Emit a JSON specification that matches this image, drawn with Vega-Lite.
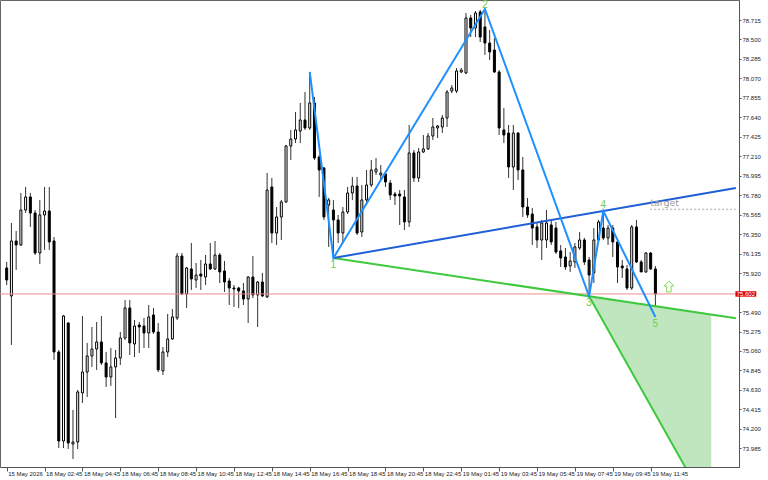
{
  "$schema": "https://vega.github.io/schema/vega-lite/v6.json",
  "width": 739,
  "height": 467,
  "autosize": {"type": "none"},
  "padding": {"left": 0, "top": 0, "right": 29, "bottom": 13},
  "background": "#ffffff",
  "config": {
    "view": {"stroke": "#666", "strokeWidth": 1},
    "axis": {"grid": false, "labelFont": "Liberation Sans", "labelFontSize": 6, "labelColor": "#222", "domainColor": "#555", "tickColor": "#555", "title": null, "labelOverlap": false, "labelFlush": false}
  },
  "datasets": {
    "candles": [
      {"i":0,"o":75.977,"h":76.043,"l":75.789,"c":75.844},
      {"i":1,"o":75.668,"h":76.474,"l":75.127,"c":76.275},
      {"i":2,"o":76.275,"h":76.385,"l":75.955,"c":76.231},
      {"i":3,"o":76.231,"h":76.805,"l":76.220,"c":76.617},
      {"i":4,"o":76.617,"h":76.871,"l":76.584,"c":76.761},
      {"i":5,"o":76.761,"h":76.805,"l":76.430,"c":76.584},
      {"i":6,"o":76.584,"h":76.617,"l":76.120,"c":76.142},
      {"i":7,"o":76.142,"h":76.728,"l":76.021,"c":76.562},
      {"i":8,"o":76.562,"h":76.871,"l":76.176,"c":76.606},
      {"i":9,"o":76.606,"h":76.871,"l":76.176,"c":76.264},
      {"i":10,"o":76.275,"h":76.319,"l":74.961,"c":75.049},
      {"i":11,"o":75.049,"h":75.071,"l":73.989,"c":74.066},
      {"i":12,"o":74.066,"h":75.458,"l":73.989,"c":75.447},
      {"i":13,"o":75.369,"h":75.380,"l":73.978,"c":74.044},
      {"i":14,"o":74.033,"h":74.409,"l":73.868,"c":74.055},
      {"i":15,"o":74.055,"h":74.630,"l":73.978,"c":74.608},
      {"i":16,"o":74.597,"h":75.447,"l":74.486,"c":74.828},
      {"i":17,"o":74.828,"h":75.149,"l":74.552,"c":75.005},
      {"i":18,"o":75.005,"h":75.325,"l":74.884,"c":75.082},
      {"i":19,"o":75.082,"h":75.380,"l":74.851,"c":75.160},
      {"i":20,"o":75.160,"h":75.447,"l":74.906,"c":74.928},
      {"i":21,"o":74.928,"h":75.049,"l":74.663,"c":74.773},
      {"i":22,"o":74.773,"h":75.093,"l":74.674,"c":74.884},
      {"i":23,"o":74.884,"h":75.071,"l":74.320,"c":74.983},
      {"i":24,"o":74.983,"h":75.270,"l":74.906,"c":75.204},
      {"i":25,"o":75.204,"h":75.623,"l":75.182,"c":75.535},
      {"i":26,"o":75.535,"h":75.623,"l":75.016,"c":75.149},
      {"i":27,"o":75.138,"h":75.402,"l":74.994,"c":75.336},
      {"i":28,"o":75.347,"h":75.380,"l":75.038,"c":75.325},
      {"i":29,"o":75.336,"h":75.425,"l":75.093,"c":75.259},
      {"i":30,"o":75.259,"h":75.568,"l":75.093,"c":75.436},
      {"i":31,"o":75.458,"h":75.535,"l":75.248,"c":75.270},
      {"i":32,"o":75.270,"h":75.369,"l":74.828,"c":74.851},
      {"i":33,"o":74.840,"h":75.104,"l":74.795,"c":75.049},
      {"i":34,"o":75.049,"h":75.469,"l":74.994,"c":75.193},
      {"i":35,"o":75.193,"h":75.524,"l":75.182,"c":75.436},
      {"i":36,"o":75.425,"h":76.142,"l":75.402,"c":76.109},
      {"i":37,"o":76.109,"h":76.142,"l":75.679,"c":75.690},
      {"i":38,"o":75.690,"h":75.988,"l":75.535,"c":75.977},
      {"i":39,"o":75.966,"h":76.253,"l":75.734,"c":75.855},
      {"i":40,"o":75.844,"h":76.032,"l":75.756,"c":75.899},
      {"i":41,"o":75.910,"h":76.065,"l":75.734,"c":75.888},
      {"i":42,"o":75.877,"h":76.120,"l":75.789,"c":76.021},
      {"i":43,"o":76.021,"h":76.253,"l":75.955,"c":75.966},
      {"i":44,"o":75.966,"h":76.275,"l":75.955,"c":76.120},
      {"i":45,"o":76.120,"h":76.142,"l":75.811,"c":75.933},
      {"i":46,"o":75.944,"h":76.054,"l":75.712,"c":75.822},
      {"i":47,"o":75.833,"h":75.866,"l":75.568,"c":75.756},
      {"i":48,"o":75.756,"h":75.789,"l":75.546,"c":75.745},
      {"i":49,"o":75.756,"h":75.767,"l":75.535,"c":75.723},
      {"i":50,"o":75.723,"h":75.811,"l":75.568,"c":75.634},
      {"i":51,"o":75.634,"h":75.888,"l":75.369,"c":75.877},
      {"i":52,"o":75.877,"h":76.109,"l":75.645,"c":75.679},
      {"i":53,"o":75.679,"h":75.833,"l":75.325,"c":75.822},
      {"i":54,"o":75.822,"h":75.922,"l":75.657,"c":75.668},
      {"i":55,"o":75.657,"h":77.026,"l":75.645,"c":76.838},
      {"i":56,"o":76.871,"h":76.971,"l":76.253,"c":76.363},
      {"i":57,"o":76.363,"h":76.650,"l":76.231,"c":76.540},
      {"i":58,"o":76.540,"h":76.728,"l":76.286,"c":76.706},
      {"i":59,"o":76.706,"h":77.335,"l":76.695,"c":77.324},
      {"i":60,"o":77.324,"h":77.501,"l":77.169,"c":77.401},
      {"i":61,"o":77.401,"h":77.699,"l":77.357,"c":77.501},
      {"i":62,"o":77.489,"h":77.799,"l":77.357,"c":77.611},
      {"i":63,"o":77.611,"h":77.920,"l":77.501,"c":77.523},
      {"i":64,"o":77.523,"h":78.141,"l":77.501,"c":77.799},
      {"i":65,"o":77.799,"h":77.865,"l":77.169,"c":77.191},
      {"i":66,"o":77.202,"h":77.225,"l":76.761,"c":77.059},
      {"i":67,"o":77.081,"h":77.092,"l":76.507,"c":76.540},
      {"i":68,"o":76.672,"h":76.750,"l":76.209,"c":76.728},
      {"i":69,"o":76.617,"h":76.728,"l":76.087,"c":76.507},
      {"i":70,"o":76.507,"h":76.562,"l":76.253,"c":76.363},
      {"i":71,"o":76.363,"h":76.650,"l":76.253,"c":76.595},
      {"i":72,"o":76.595,"h":76.871,"l":76.573,"c":76.805},
      {"i":73,"o":76.805,"h":76.982,"l":76.728,"c":76.882},
      {"i":74,"o":76.882,"h":76.982,"l":76.341,"c":76.363},
      {"i":75,"o":76.374,"h":76.893,"l":76.319,"c":76.728},
      {"i":76,"o":76.728,"h":77.059,"l":76.695,"c":76.893},
      {"i":77,"o":76.893,"h":77.169,"l":76.871,"c":77.059},
      {"i":78,"o":77.037,"h":77.191,"l":77.004,"c":77.070},
      {"i":79,"o":77.004,"h":77.114,"l":76.948,"c":77.026},
      {"i":80,"o":77.015,"h":77.026,"l":76.871,"c":76.926},
      {"i":81,"o":76.915,"h":76.948,"l":76.728,"c":76.783},
      {"i":82,"o":76.794,"h":76.816,"l":76.672,"c":76.772},
      {"i":83,"o":76.794,"h":76.838,"l":76.452,"c":76.772},
      {"i":84,"o":76.761,"h":76.838,"l":76.396,"c":76.485},
      {"i":85,"o":76.485,"h":77.556,"l":76.430,"c":77.247},
      {"i":86,"o":77.247,"h":77.280,"l":76.926,"c":76.971},
      {"i":87,"o":76.971,"h":77.302,"l":76.926,"c":77.258},
      {"i":88,"o":77.258,"h":77.445,"l":77.247,"c":77.291},
      {"i":89,"o":77.291,"h":77.467,"l":77.280,"c":77.434},
      {"i":90,"o":77.434,"h":77.633,"l":77.390,"c":77.534},
      {"i":91,"o":77.523,"h":77.556,"l":77.412,"c":77.545},
      {"i":92,"o":77.534,"h":77.666,"l":77.467,"c":77.633},
      {"i":93,"o":77.633,"h":77.942,"l":77.534,"c":77.920},
      {"i":94,"o":77.931,"h":77.997,"l":77.909,"c":77.964},
      {"i":95,"o":77.931,"h":78.185,"l":77.909,"c":78.152},
      {"i":96,"o":78.141,"h":78.185,"l":78.130,"c":78.163},
      {"i":97,"o":78.130,"h":78.792,"l":78.119,"c":78.737},
      {"i":98,"o":78.737,"h":78.770,"l":78.527,"c":78.627},
      {"i":99,"o":78.627,"h":78.815,"l":78.527,"c":78.792},
      {"i":100,"o":78.804,"h":78.826,"l":78.472,"c":78.527},
      {"i":101,"o":78.638,"h":78.837,"l":78.329,"c":78.461},
      {"i":102,"o":78.461,"h":78.605,"l":78.273,"c":78.362},
      {"i":103,"o":78.384,"h":78.516,"l":78.130,"c":78.141},
      {"i":104,"o":78.141,"h":78.163,"l":77.445,"c":77.523},
      {"i":105,"o":77.501,"h":77.743,"l":77.357,"c":77.445},
      {"i":106,"o":77.467,"h":77.556,"l":76.971,"c":77.092},
      {"i":107,"o":77.092,"h":77.556,"l":76.838,"c":77.467},
      {"i":108,"o":77.467,"h":77.478,"l":76.948,"c":77.059},
      {"i":109,"o":77.059,"h":77.202,"l":76.540,"c":76.650},
      {"i":110,"o":76.650,"h":76.750,"l":76.529,"c":76.562},
      {"i":111,"o":76.573,"h":76.639,"l":76.231,"c":76.418},
      {"i":112,"o":76.430,"h":76.474,"l":76.198,"c":76.286},
      {"i":113,"o":76.286,"h":76.507,"l":76.065,"c":76.474},
      {"i":114,"o":76.286,"h":76.617,"l":76.198,"c":76.474},
      {"i":115,"o":76.452,"h":76.507,"l":76.231,"c":76.264},
      {"i":116,"o":76.418,"h":76.485,"l":76.131,"c":76.153},
      {"i":117,"o":76.165,"h":76.231,"l":75.988,"c":76.087},
      {"i":118,"o":76.098,"h":76.198,"l":75.955,"c":75.988},
      {"i":119,"o":75.999,"h":76.153,"l":75.933,"c":76.054},
      {"i":120,"o":76.043,"h":76.253,"l":75.977,"c":76.209},
      {"i":121,"o":76.198,"h":76.374,"l":76.176,"c":76.286},
      {"i":122,"o":76.286,"h":76.308,"l":76.010,"c":76.043},
      {"i":123,"o":76.065,"h":76.098,"l":75.664,"c":75.899},
      {"i":124,"o":75.922,"h":76.418,"l":75.811,"c":76.286},
      {"i":125,"o":76.286,"h":76.507,"l":76.264,"c":76.485},
      {"i":126,"o":76.418,"h":76.606,"l":76.286,"c":76.308},
      {"i":127,"o":76.308,"h":76.452,"l":76.231,"c":76.418},
      {"i":128,"o":76.418,"h":76.452,"l":76.098,"c":76.264},
      {"i":129,"o":76.264,"h":76.286,"l":75.811,"c":75.988},
      {"i":130,"o":75.999,"h":76.065,"l":75.866,"c":75.977},
      {"i":131,"o":75.966,"h":76.010,"l":75.734,"c":75.756},
      {"i":132,"o":75.756,"h":76.452,"l":75.734,"c":76.430},
      {"i":133,"o":76.430,"h":76.507,"l":76.032,"c":76.043},
      {"i":134,"o":76.043,"h":76.065,"l":75.933,"c":75.933},
      {"i":135,"o":75.933,"h":76.153,"l":75.922,"c":76.142},
      {"i":136,"o":76.142,"h":76.153,"l":75.955,"c":75.966},
      {"i":137,"o":75.966,"h":75.999,"l":75.436,"c":75.690}
    ],
    "wolfe": [
      {"n":0,"i":64,"p":78.141},
      {"n":1,"i":69,"p":76.087},
      {"n":2,"i":101,"p":78.837},
      {"n":3,"i":123,"p":75.664},
      {"n":4,"i":126,"p":76.606},
      {"n":5,"i":137,"p":75.436}
    ],
    "line14": [{"i":69,"p":76.087},{"i":154,"p":76.861}],
    "line13": [{"i":69,"p":76.087},{"i":154,"p":75.422}],
    "diag": [{"i":123,"p":75.664},{"i":150,"p":73.155}],
    "zone": [{"i":123,"p":75.664,"p2":75.664},{"i":148.8,"p":75.463,"p2":73.266}],
    "target": [{"i":135.9,"p":76.625,"label":"target"},{"i":154,"p":76.625,"label":""}],
    "arrow": [{"i":139.85,"p":75.772}],
    "price": [{"i":153.9,"i2":158.3,"p":75.690,"label":"75.602"}]
  },
  "layer": [
    {
      "data": {"name": "candles"},
      "mark": {"type": "rule", "color": "#333", "strokeWidth": 1},
      "encoding": {
        "x": {
          "field": "i", "type": "quantitative", "title": null,
          "scale": {"domain": [-0.354, 153.6], "nice": false, "zero": false},
          "axis": {
            "orient": "bottom",
            "values": [0,8,16,24,32,40,48,56,64,72,80,88,96,104,112,120,128,136],
            "tickCount": 40,
            "labelExpr": "['15 May 2026','18 May 02:45','18 May 04:45','18 May 06:45','18 May 08:45','18 May 10:45','18 May 12:45','18 May 14:45','18 May 16:45','18 May 18:45','18 May 20:45','18 May 22:45','19 May 01:45','19 May 03:45','19 May 05:45','19 May 07:45','19 May 09:45','19 May 11:45'][round(datum.value/8)]",
            "labelAlign": "left",
            "labelBaseline": "top",
            "labelOffset": 1,
            "labelPadding": -1,
            "tickSize": 4,
            "labelOverlap": false,
            "labelFlush": false
          }
        },
        "y": {
          "field": "l", "type": "quantitative", "title": null,
          "scale": {"domain": [73.779, 78.936], "nice": false, "zero": false},
          "axis": {
            "orient": "right",
            "values": [73.985,74.2,74.415,74.63,74.845,75.06,75.275,75.49,75.92,76.135,76.35,76.565,76.78,76.995,77.21,77.425,77.64,77.855,78.07,78.285,78.5,78.715],
            "tickCount": 40,
            "format": ".3f",
            "tickSize": 2,
            "labelPadding": 1,
            "labelBaseline": "middle",
            "labelOverlap": false,
            "labelFlush": false
          }
        },
        "y2": {"field": "h"}
      }
    },
    {
      "data": {"name": "candles"},
      "mark": {"type": "bar", "width": 2, "stroke": "#000", "strokeWidth": 1},
      "encoding": {
        "x": {"field": "i", "type": "quantitative", "title": null},
        "y": {"field": "o", "type": "quantitative", "title": null},
        "y2": {"field": "c"},
        "fill": {"condition": {"test": "datum.c < datum.o", "value": "#000000"}, "value": "#ffffff"}
      }
    },
    {
      "data": {"name": "zone"},
      "mark": {"type": "area", "color": "#bfe6bf", "opacity": 1, "clip": true},
      "encoding": {
        "x": {"field": "i", "type": "quantitative", "title": null},
        "y": {"field": "p", "type": "quantitative", "title": null},
        "y2": {"field": "p2"}
      }
    },
    {
      "data": {"name": "price"},
      "mark": {"type": "rule", "color": "#f08c8c", "strokeWidth": 1},
      "encoding": {
        "y": {"field": "p", "type": "quantitative", "title": null}
      }
    },
    {
      "data": {"name": "line13"},
      "mark": {"type": "line", "color": "#3ec93e", "strokeWidth": 2, "clip": true},
      "encoding": {
        "x": {"field": "i", "type": "quantitative", "title": null},
        "y": {"field": "p", "type": "quantitative", "title": null}
      }
    },
    {
      "data": {"name": "diag"},
      "mark": {"type": "line", "color": "#3ec93e", "strokeWidth": 2, "clip": true},
      "encoding": {
        "x": {"field": "i", "type": "quantitative", "title": null},
        "y": {"field": "p", "type": "quantitative", "title": null}
      }
    },
    {
      "data": {"name": "line14"},
      "mark": {"type": "line", "color": "#1f5fd6", "strokeWidth": 2, "clip": true},
      "encoding": {
        "x": {"field": "i", "type": "quantitative", "title": null},
        "y": {"field": "p", "type": "quantitative", "title": null}
      }
    },
    {
      "data": {"name": "wolfe"},
      "mark": {"type": "line", "color": "#1e90ff", "strokeWidth": 2},
      "encoding": {
        "x": {"field": "i", "type": "quantitative", "title": null},
        "y": {"field": "p", "type": "quantitative", "title": null},
        "order": {"field": "n"}
      }
    },
    {
      "data": {"name": "target"},
      "mark": {"type": "line", "color": "#aaaaaa", "strokeWidth": 1, "strokeDash": [2, 2], "clip": true},
      "encoding": {
        "x": {"field": "i", "type": "quantitative", "title": null},
        "y": {"field": "p", "type": "quantitative", "title": null}
      }
    },
    {
      "data": {"name": "target"},
      "mark": {"type": "text", "color": "#a0a0a0", "font": "DejaVu Sans", "fontSize": 9.5, "align": "left", "baseline": "alphabetic", "dy": -3},
      "encoding": {
        "x": {"field": "i", "type": "quantitative", "title": null},
        "y": {"field": "p", "type": "quantitative", "title": null},
        "text": {"field": "label"}
      }
    },
    {
      "data": {"name": "wolfe"},
      "transform": [{"filter": "datum.n % 2 == 1"}],
      "mark": {"type": "text", "color": "#72cc4a", "font": "Liberation Sans", "fontSize": 10, "align": "center", "baseline": "top", "dy": 2},
      "encoding": {
        "x": {"field": "i", "type": "quantitative", "title": null},
        "y": {"field": "p", "type": "quantitative", "title": null},
        "text": {"field": "n"}
      }
    },
    {
      "data": {"name": "wolfe"},
      "transform": [{"filter": "datum.n == 4"}],
      "mark": {"type": "text", "color": "#72cc4a", "font": "Liberation Sans", "fontSize": 10, "align": "center", "baseline": "alphabetic", "dy": -3},
      "encoding": {
        "x": {"field": "i", "type": "quantitative", "title": null},
        "y": {"field": "p", "type": "quantitative", "title": null},
        "text": {"field": "n"}
      }
    },
    {
      "data": {"name": "wolfe"},
      "transform": [{"filter": "datum.n == 2"}],
      "mark": {"type": "text", "color": "#72cc4a", "font": "Liberation Sans", "fontSize": 10, "align": "center", "baseline": "alphabetic", "dy": -1},
      "encoding": {
        "x": {"field": "i", "type": "quantitative", "title": null},
        "y": {"field": "p", "type": "quantitative", "title": null},
        "text": {"field": "n"}
      }
    },
    {
      "data": {"name": "arrow"},
      "mark": {"type": "point", "shape": "M0,-1L0.9,-0.1L0.4,-0.1L0.4,1L-0.4,1L-0.4,-0.1L-0.9,-0.1Z", "size": 121, "filled": true, "fill": "#ffffff", "stroke": "#7ed957", "strokeWidth": 1, "opacity": 1},
      "encoding": {
        "x": {"field": "i", "type": "quantitative", "title": null},
        "y": {"field": "p", "type": "quantitative", "title": null}
      }
    },
    {
      "data": {"name": "price"},
      "mark": {"type": "rect", "color": "#e00000", "clip": false},
      "encoding": {
        "x": {"field": "i", "type": "quantitative", "title": null},
        "x2": {"field": "i2"},
        "y": {"datum": 75.720, "type": "quantitative"},
        "y2": {"datum": 75.660}
      }
    },
    {
      "data": {"name": "price"},
      "mark": {"type": "text", "color": "#ffffff", "font": "Liberation Sans", "fontSize": 6, "align": "center", "baseline": "middle"},
      "encoding": {
        "x": {"datum": 156.1, "type": "quantitative"},
        "y": {"field": "p", "type": "quantitative", "title": null},
        "text": {"field": "label"}
      }
    }
  ]
}
